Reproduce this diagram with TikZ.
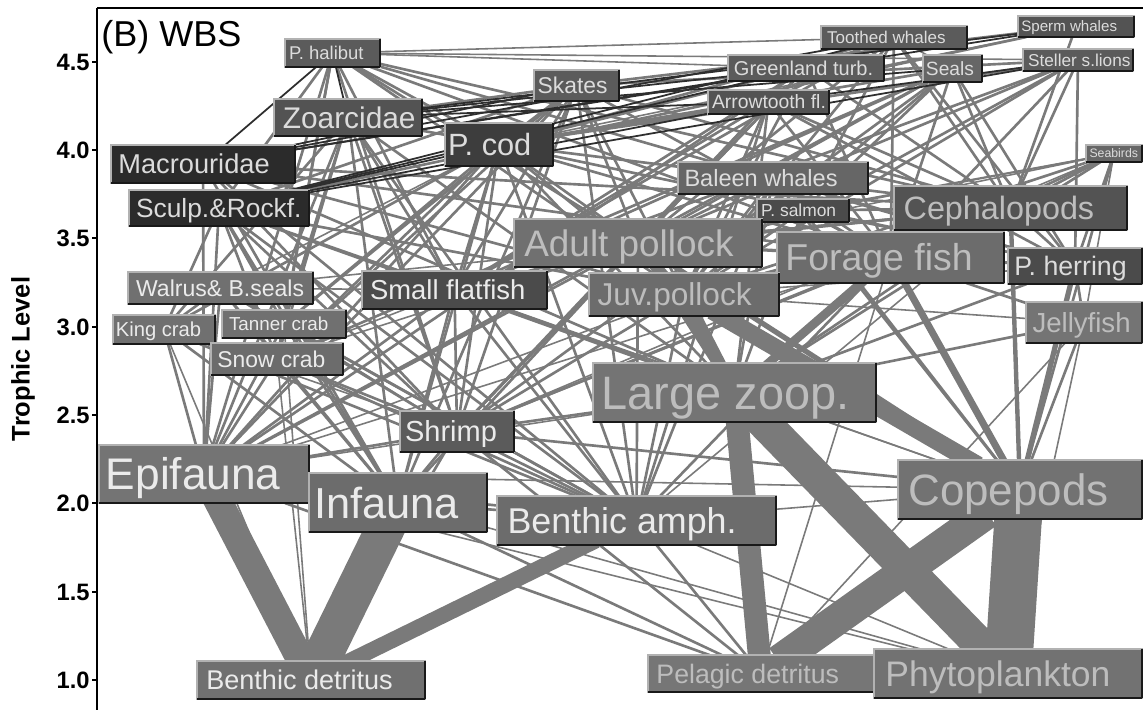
\documentclass[tikz,border=0pt]{standalone}
\usepackage{fontspec}
\setmainfont{Liberation Sans}
\definecolor{ec}{HTML}{7A7A7A}
\definecolor{edk}{HTML}{2E2E2E}
\definecolor{c2b}{HTML}{2B2B2B}
\definecolor{c3c}{HTML}{3D3D3D}
\definecolor{c4a}{HTML}{4B4B4B}
\definecolor{c52}{HTML}{535353}
\definecolor{c5a}{HTML}{5B5B5B}
\definecolor{c66}{HTML}{666666}
\definecolor{c6c}{HTML}{6C6C6C}
\definecolor{c70}{HTML}{707070}
\definecolor{c72}{HTML}{727272}
\definecolor{c74}{HTML}{747474}
\definecolor{c76}{HTML}{767676}
\definecolor{txl}{HTML}{DCDCDC}
\definecolor{txm}{HTML}{BDBDBD}
\definecolor{txw}{HTML}{EBEBEB}
\pgfdeclarelayer{edges}
\pgfsetlayers{edges,main}
\tikzset{
  fwb/.style={draw=black!30, line width=0.6pt, inner sep=0pt, outer sep=0pt,
    append after command={(\tikzlastnode.south west) edge[draw=black!90,line width=1.1pt] (\tikzlastnode.south east)
      (\tikzlastnode.south east) edge[draw=black!90,line width=1.1pt] (\tikzlastnode.north east)}},
  ln/.style={draw=ec, line width=1.5pt},
  lnt/.style={draw=ec, line width=0.9pt},
  lnd/.style={draw=edk, line width=1.0pt},
  lnw/.style={draw=ec, line width=#1, shorten <=-6pt, shorten >=-6pt},
}
\newcommand{\fw}[9]{%
  \node[fwb,#7,minimum width={(#4-#2)*0.02cm},minimum height={(#5-#3)*0.02cm}] (#1) at ({(#2+#4)/2},{(#3+#5)/2}) {};
  \node[anchor=base west,inner sep=0pt,font=\fontsize{#6}{#6}\selectfont,#8] (#1t) at ([yshift={-0.358*#6pt}]#1.west) {#9};}
\begin{document}
\begin{tikzpicture}[x=0.02cm,y=-0.02cm]
\useasboundingbox (0,0) rectangle (1143,710);
% axes
\draw[line width=0.9pt] (97,8) -- (97,710);
\draw[line width=0.9pt] (97,8) -- (1143,8);
\foreach \v/\yy [count=\i] in {4.5/62,4.0/150,3.5/238,3.0/327,2.5/415,2.0/503,1.5/592,1.0/680}{
  \draw[line width=0.8pt] (92,\yy) -- (97,\yy);
  \node[anchor=east,inner sep=0pt,font=\bfseries\fontsize{13.5}{13.5}\selectfont] (tk\i) at (90,\yy) {\v};
}
\node[rotate=90,inner sep=0pt,font=\bfseries\fontsize{14.5}{14.5}\selectfont] (ylab) at (23,359) {Trophic Level};
\node[anchor=base west,inner sep=0pt,font=\fontsize{20.5}{20.5}\selectfont] (title) at (101,46) {(B) WBS};
% nodes
\fw{hal}{285}{39}{380}{67}{10.5}{fill=c5a}{text=txl,xshift=2.1pt}{P. halibut}
\fw{tw}{821}{26}{967}{49}{9.7}{fill=c5a}{text=txl,xshift=3.3pt}{Toothed whales}
\fw{sw}{1018}{16}{1134}{37}{8.6}{fill=c52}{text=txl,xshift=1.7pt}{Sperm whales}
\fw{grt}{728}{55}{884}{81}{11.4}{fill=c5a}{text=txl,xshift=3.2pt}{Greenland turb.}
\fw{seal}{923}{55}{982}{82}{10.9}{fill=c66}{text=txl,xshift=1.5pt}{Seals}
\fw{ssl}{1023}{49}{1133}{71}{9.8}{fill=c5a}{text=txl,xshift=2.7pt}{Steller s.lions}
\fw{skt}{534}{70}{619}{101}{13}{fill=c5a}{text=txl,xshift=1.9pt}{Skates}
\fw{atf}{708}{90}{829}{114}{11}{fill=c52}{text=txl,xshift=2.1pt}{Arrowtooth fl.}
\fw{zoa}{274}{99}{422}{136}{17}{fill=c52}{text=txl,xshift=4.8pt}{Zoarcidae}
\fw{cod}{445}{123}{553}{166}{17.5}{fill=c3c}{text=txl,xshift=1.6pt}{P. cod}
\fw{mac}{111}{145}{295}{183}{15.5}{fill=c2b}{text=txl,xshift=4pt}{Macrouridae}
\fw{bird}{1086}{145}{1142}{162}{7}{fill=c66}{text=txl,xshift=1.8pt}{Seabirds}
\fw{bw}{678}{162}{868}{194}{13.4}{fill=c66}{text=txl,xshift=3.5pt}{Baleen whales}
\fw{scu}{129}{190}{309}{226}{15}{fill=c2b}{text=txl,xshift=3.8pt}{Sculp.\&Rockf.}
\fw{sal}{757}{199}{849}{222}{9.9}{fill=c4a}{text=txl,xshift=2.1pt}{P. salmon}
\fw{ceph}{894}{186}{1127}{230}{18.4}{fill=c52}{text=txm,xshift=5.3pt}{Cephalopods}
\fw{apol}{514}{219}{762}{267}{21}{fill=c70}{text=txm,xshift=5.7pt}{Adult pollock}
\fw{ff}{777}{232}{1004}{283}{21.3}{fill=c6c}{text=txm,xshift=4.6pt}{Forage fish}
\fw{her}{1008}{248}{1142}{284}{15.2}{fill=c4a}{text=txl,xshift=3.4pt}{P. herring}
\fw{wal}{128}{272}{313}{304}{13.1}{fill=c70}{text=txw,xshift=4.4pt}{Walrus\& B.seals}
\fw{sff}{362}{271}{547}{309}{15.6}{fill=c4a}{text=txw,xshift=4.4pt}{Small flatfish}
\fw{jpol}{589}{273}{779}{316}{18}{fill=c6c}{text=txm,xshift=4.7pt}{Juv.pollock}
\fw{kc}{113}{315}{215}{344}{11.5}{fill=c70}{text=txw,xshift=1.4pt}{King crab}
\fw{tc}{222}{310}{346}{338}{10.7}{fill=c70}{text=txw,xshift=3.8pt}{Tanner crab}
\fw{jel}{1026}{302}{1142}{343}{15.7}{fill=c74}{text=txm,xshift=3.5pt}{Jellyfish}
\fw{snc}{211}{343}{343}{375}{13}{fill=c6c}{text=txw,xshift=3.4pt}{Snow crab}
\fw{lz}{593}{363}{876}{422}{26.7}{fill=c74}{text=txm,xshift=4.8pt}{Large zoop.}
\fw{shr}{400}{411}{514}{452}{16.5}{fill=c5a}{text=txw,xshift=2.7pt}{Shrimp}
\fw{epi}{99}{445}{309}{503}{25.2}{fill=c74}{text=txw,xshift=3.7pt}{Epifauna}
\fw{inf}{309}{473}{487}{532}{24.7}{fill=c6c}{text=txw,xshift=2.8pt}{Infauna}
\fw{cop}{898}{460}{1142}{519}{25}{fill=c72}{text=txm,xshift=5.7pt}{Copepods}
\fw{bam}{497}{496}{776}{545}{20.4}{fill=c6c}{text=txw,xshift=5.8pt}{Benthic amph.}
\fw{bdet}{197}{661}{425}{699}{15.4}{fill=c70}{text=txw,xshift=5.1pt}{Benthic detritus}
\fw{pdet}{648}{655}{874}{692}{15.2}{fill=c76}{text=txm,xshift=4.6pt}{Pelagic detritus}
\fw{phy}{874}{649}{1142}{698}{20.2}{fill=c72}{text=txm,xshift=6.3pt}{Phytoplankton}
% connectors
\begin{pgfonlayer}{edges}
\draw[lnw=16pt] (epi) -- (bdet);
\draw[lnw=22pt] (inf) -- (bdet);
\draw[lnw=9pt] (bam) -- (bdet);
\draw[lnw=13pt] (lz) -- (pdet);
\draw[lnw=19pt] (lz) -- (phy);
\draw[lnw=18pt] (cop) -- (pdet);
\draw[lnw=27pt] (cop) -- (phy);
\draw[lnw=10pt] (jpol) -- (cop);
\draw[lnw=7pt] (jpol) -- (lz);
\draw[lnw=5pt] (ff) -- (lz);
\draw[lnw=4pt] (ff) -- (cop);
\draw[lnw=4pt] (apol) -- (lz);
\draw[lnw=3.5pt] (apol) -- (jpol);
\draw[lnw=3pt] (apol) -- (cop);
\draw[lnw=3pt] (her) -- (cop);
\draw[lnw=2.5pt] (ceph) -- (cop);
\foreach \a/\b in {tw/grt, tw/atf, tw/cod, tw/apol, tw/ff, tw/ceph, tw/sal, tw/her, tw/sff, tw/jpol,
 sw/ceph, sw/scu, sw/skt,
 grt/cod, grt/apol, grt/jpol, grt/ceph, grt/ff, grt/sff, grt/shr, grt/epi,
 seal/cod, seal/apol, seal/jpol, seal/ff, seal/her, seal/ceph, seal/shr, seal/snc, seal/sff, seal/epi, seal/sal,
 ssl/cod, ssl/apol, ssl/jpol, ssl/ff, ssl/her, ssl/ceph, ssl/sal, ssl/sff, ssl/skt,
 hal/cod, hal/apol, hal/jpol, hal/sff, hal/ff, hal/ceph, hal/shr, hal/snc, hal/tc, hal/scu, hal/her, hal/epi,
 skt/zoa, skt/cod, skt/apol, skt/jpol, skt/sff, skt/ff, skt/shr, skt/snc, skt/tc, skt/epi, skt/inf, skt/bam, skt/ceph, skt/scu,
 atf/cod, atf/apol, atf/jpol, atf/ff, atf/sff, atf/shr, atf/ceph, atf/her, atf/lz, atf/bam,
 zoa/shr, zoa/epi, zoa/inf, zoa/bam, zoa/snc, zoa/tc, zoa/kc, zoa/sff, zoa/lz,
 cod/apol, cod/jpol, cod/sff, cod/ff, cod/shr, cod/snc, cod/tc, cod/kc, cod/epi, cod/inf, cod/bam, cod/lz, cod/her, cod/ceph, cod/zoa,
 mac/shr, mac/epi, mac/inf, mac/bam, mac/lz, mac/ceph, mac/ff, mac/jpol,
 bird/ff, bird/her, bird/jpol, bird/ceph, bird/lz, bird/cop,
 bw/ff, bw/her, bw/jpol, bw/lz, bw/cop, bw/bam, bw/apol,
 scu/shr, scu/epi, scu/inf, scu/bam, scu/snc, scu/tc, scu/kc, scu/sff, scu/lz, scu/jpol,
 sal/ff, sal/lz, sal/cop, sal/ceph, sal/jpol,
 ceph/ff, ceph/jpol, ceph/lz, ceph/her, ceph/shr, ceph/apol,
 apol/ff, apol/shr, apol/sff, apol/bam, apol/epi, apol/inf, apol/ceph, apol/her,
 ff/bam, ff/shr, ff/jel, her/lz, her/jel, her/ff,
 wal/epi, wal/inf, wal/bam, wal/shr, wal/snc, wal/tc, wal/kc,
 sff/epi, sff/inf, sff/bam, sff/shr, sff/lz, jpol/bam, jpol/shr,
 kc/epi, kc/inf, kc/bam, tc/epi, tc/inf, tc/bam, snc/epi, snc/inf, snc/bam, snc/shr,
 jel/cop, jel/lz, shr/epi, shr/inf, shr/bam, shr/bdet, shr/lz, shr/cop, shr/pdet,
 epi/inf, epi/bam, epi/pdet, inf/pdet, inf/bam, bam/pdet}
  \draw[ln] (\a) -- (\b);
\foreach \a/\b in {tw/hal, tw/seal, grt/hal, ssl/hal, sw/cod, bird/jel, bird/sal, bird/sff, bird/shr, bird/apol,
 scu/cop, sal/her, ceph/bam, apol/snc, ff/pdet, ff/epi, her/jpol, wal/sff, wal/ceph, wal/cod, sff/snc, sff/cop,
 jpol/epi, jpol/jel, kc/bdet, kc/shr, tc/bdet, tc/shr, snc/bdet, jel/phy, jel/pdet, epi/phy, epi/cop, epi/lz,
 inf/phy, bam/phy, bam/cop}
  \draw[lnt] (\a) -- (\b);
\foreach \a/\b in {hal/zoa, hal/mac, tw/scu, tw/mac, sw/mac, sw/zoa, grt/zoa, grt/mac, grt/scu, seal/zoa,
 ssl/scu, ssl/atf, skt/mac, atf/zoa, atf/scu, cod/scu}
  \draw[lnd] (\a) -- (\b);
\end{pgfonlayer}
\end{tikzpicture}
\end{document}
